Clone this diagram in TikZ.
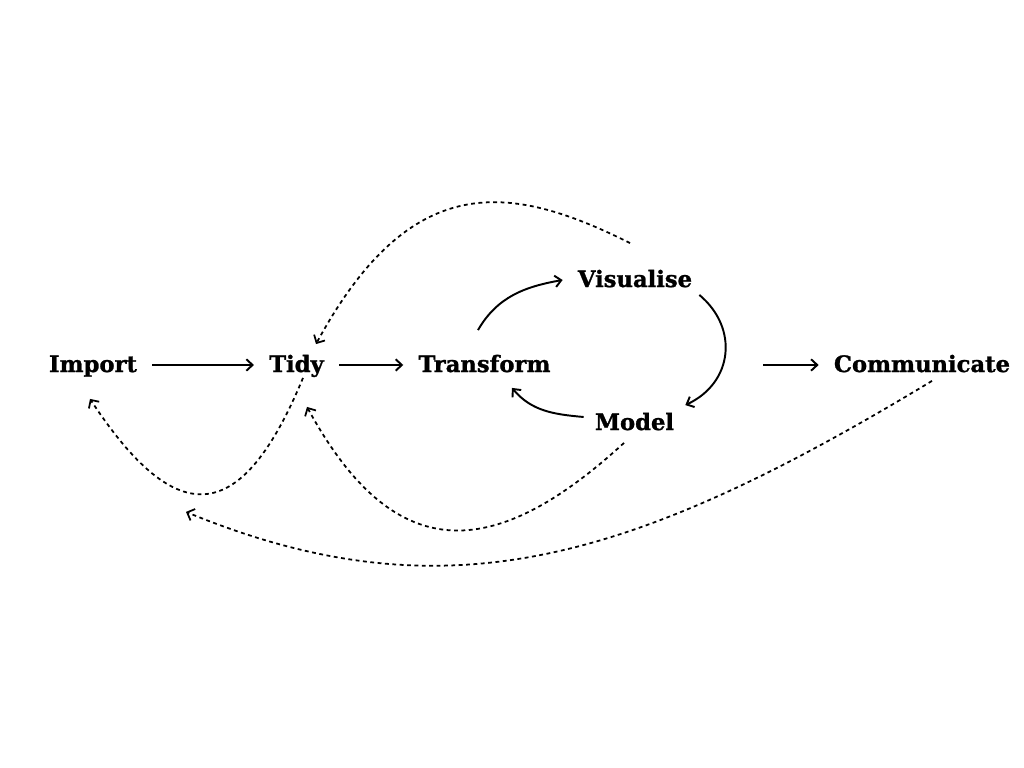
\documentclass[tikz,border=0pt]{standalone}
\usepackage{fontspec}
\setmainfont{DejaVu Serif}[BoldFeatures={FakeBold=1.2}]
\usetikzlibrary{arrows.meta}

\begin{document}
\begin{tikzpicture}[
  stage/.style={font=\bfseries\fontsize{12.9}{15}\selectfont, inner xsep=8.5pt, inner ysep=4pt, text height=10pt, text depth=2pt},
  flow/.style={line width=1.1pt, -{Straight Barb[length=3.5pt,width=6.5pt]}},
  back/.style={line width=1pt, dash pattern=on 2.2pt off 2pt, -{Straight Barb[length=3.5pt,width=7pt]}}]
\useasboundingbox (0,0) rectangle (20.48,15.36);

\node[stage] (import) at (1.86,8.06) {Import};
\node[stage] (tidy) at (5.93,8.06) {Tidy};
\node[stage] (transform) at (9.69,8.06) {Transform};
\node[stage] (visualise) at (12.70,9.76) {Visualise};
\node[stage] (model) at (12.69,6.90) {Model};
\node[stage] (communicate) at (18.44,8.06) {Communicate};
\coordinate (out) at (15.26,8.06);

\path[draw,flow] (import) -- (tidy);
\path[draw,flow] (tidy) -- (transform);
\path[draw,flow] ([shift={(-0.13,0.34)}]transform.north) to[out=60,in=190] (visualise.west);
\path[draw,flow] ([shift={(-0.16,0.06)}]visualise.south east) to[out=-40,in=25,looseness=1.2] ([xshift=-0.08cm]model.north east);
\path[draw,flow] ([shift={(0.08,0.12)}]model.west) to[out=175,in=-50] ([shift={(0.55,-0.10)}]transform.south);
\path[draw,flow] (out) -- (communicate);

\path[draw,back] ([shift={(-0.10,0.38)}]visualise.north) .. controls +(-2.4,1.2) and +(1.9,3.5) .. ([shift={(0.39,0.06)}]tidy.north);
\path[draw,back] ([shift={(0.13,0.10)}]tidy.south) .. controls +(-1.22,-2.94) and +(1.76,-2.68) .. ([shift={(-0.06,-0.32)}]import.south);
\path[draw,back] ([shift={(-0.21,-0.04)}]model.south) .. controls +(-2.66,-2.44) and +(1.72,-3.16) .. ([shift={(0.21,-0.48)}]tidy.south);
\path[draw,back] ([shift={(0.20,0.04)}]communicate.south) .. controls +(-6.02,-3.64) and +(5.16,-2.12) .. ([shift={(1.86,-2.58)}]import.south);
\end{tikzpicture}
\end{document}
